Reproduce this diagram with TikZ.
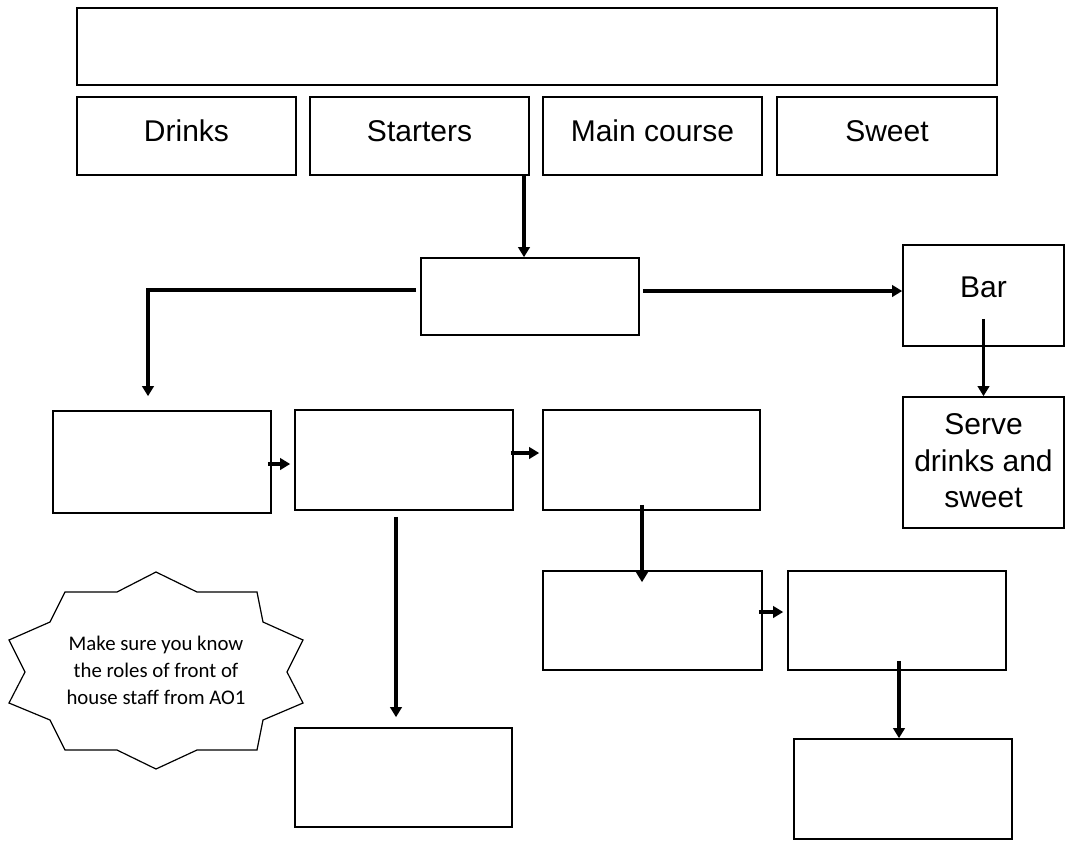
\documentclass[tikz,border=0pt]{standalone}
\usepackage{fontspec}
\setmainfont{Liberation Sans}
\newfontfamily\calibri{Carlito}
\usetikzlibrary{arrows.meta,fit,calc}
\begin{document}
\begin{tikzpicture}[x=0.75pt,y=-0.75pt,
  box/.style={draw, line width=1.2pt, inner sep=0pt},
  lbl/.style={font=\fontsize{22.5}{27.4}\selectfont, anchor=base, inner sep=0pt},
  arr/.style={line width=2.4pt, -{Triangle[length=7.5pt,width=8.5pt]}},
  notetext/.style={font=\calibri\fontsize{15.6}{20.2}\selectfont, align=center, inner sep=0pt}
]
\useasboundingbox (0,0) rectangle (1074,843);

% top row
\node[box, fit={(77,8) (997,85)}] (title) {};
\node[box, fit={(77,97) (296,175)}] (drinks) {};
\node[box, fit={(310,97) (529,175)}] (starters) {};
\node[box, fit={(543,97) (762,175)}] (maincourse) {};
\node[box, fit={(777,97) (997,175)}] (sweet) {};
\node[lbl] (drinksT) at (186.5,141) {Drinks};
\node[lbl] (startersT) at (419.5,141) {Starters};
\node[lbl] (maincourseT) at (652.5,141) {Main course};
\node[lbl] (sweetT) at (887,141) {Sweet};

% middle
\node[box, fit={(421,258) (639,335)}] (centre) {};
\node[box, fit={(903,245) (1064,346)}] (bar) {};
\node[lbl] (barT) at (983.5,297) {Bar};
\node[box, fit={(903,397) (1064,528)}] (serve) {};
\node[font=\fontsize{22.5}{27.4}\selectfont, align=center, inner sep=0pt] (serveT) at (983.5,461) {Serve\\drinks and\\sweet};

% row 2
\node[box, fit={(53,411) (271,513)}] (boxA) {};
\node[box, fit={(295,410) (513,510)}] (boxB) {};
\node[box, fit={(543,410) (760,510)}] (boxC) {};

% row 3
\node[box, fit={(543,571) (762,670)}] (boxD) {};
\node[box, fit={(788,571) (1006,670)}] (boxE) {};

% bottom
\node[box, fit={(295,728) (512,827)}] (boxG) {};
\node[box, fit={(794,739) (1012,839)}] (boxF) {};

% star note
\draw[line width=0.9pt, line join=miter]
  (156,572) -- (197,592) -- (257,592) -- (263,622) -- (303,640) -- (287,672)
  -- (303,703) -- (263,720) -- (257,750) -- (197,750) -- (156,769) -- (117,750)
  -- (65,750) -- (50,720) -- (9,703) -- (25,672) -- (9,640) -- (50,622)
  -- (65,592) -- (117,592) -- cycle;
\node[notetext] (note) at (156,670) {Make sure you know\\the roles of front of\\house staff from AO1};

% connectors
\draw[arr] (starters.south -| 524,0) -- (centre.north -| 524,0);
\draw[arr] ($(centre.west |- 0,290)+(-4,0)$) -| ($(boxA.north -| 148,0)+(0,-14)$);
\draw[arr] ($(centre.east |- 0,291)+(3,0)$) -- (bar.west |- 0,291);
\draw[arr] ($(bar.south)+(0,-28)$) -- (serve.north);
\draw[arr] ($(boxA.east |- 0,464)+(-4,0)$) -- ($(boxB.west |- 0,464)+(-4,0)$);
\draw[arr] ($(boxB.east |- 0,453)+(-3,0)$) -- ($(boxC.west |- 0,453)+(-3,0)$);
\draw[arr] ($(boxB.south -| 396,0)+(0,6)$) -- ($(boxG.north -| 396,0)+(0,-10)$);
\draw[arr] ($(boxC.south -| 642,0)+(0,-6)$) -- ($(boxD.north -| 642,0)+(0,12)$);
\draw[arr] ($(boxD.east |- 0,612)+(-4,0)$) -- ($(boxE.west |- 0,612)+(-4,0)$);
\draw[arr] ($(boxE.south -| 899,0)+(0,-10)$) -- (boxF.north -| 899,0);
\end{tikzpicture}
\end{document}
